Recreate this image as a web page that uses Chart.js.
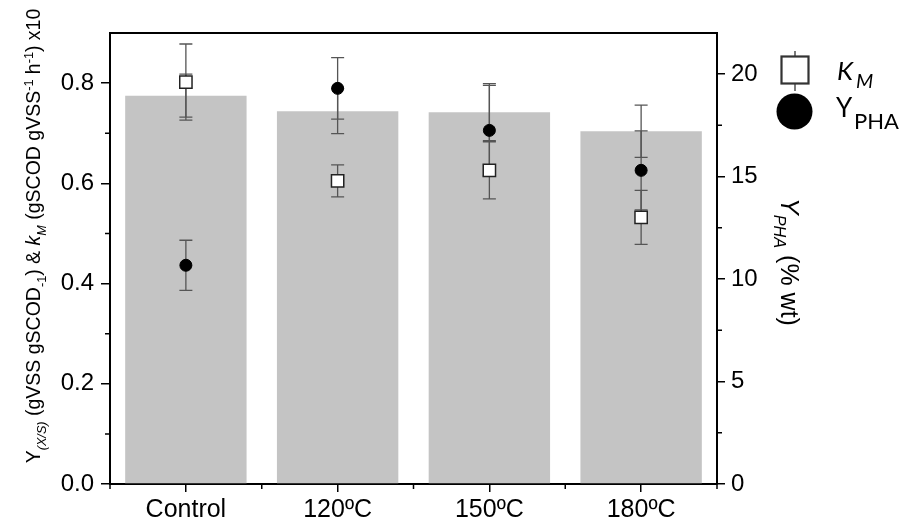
<!DOCTYPE html>
<html>
<head>
<meta charset="utf-8">
<script src="https://cdn.jsdelivr.net/npm/chart.js@4.4.1/dist/chart.umd.min.js"></script>
<style>
  body { margin: 0; background: #fff; }
  canvas { display: block; }
</style>
</head>
<body>
<canvas id="chart" width="904" height="527"></canvas>
<script>
// values
const categories = ['Control', '120ºC', '150ºC', '180ºC'];
const yxsValues = [0.775, 0.744, 0.742, 0.704];   // bars, left axis
const yxsErr = [0.043, 0.045, 0.057, 0.052];
const kmValues = [0.802, 0.605, 0.626, 0.532];     // squares, left axis
const kmErr = [0.076, 0.032, 0.057, 0.054];
const yphaValues = [10.67, 19.3, 17.25, 15.3];     // circles, right axis
const yphaErr = [1.22, 1.5, 2.2, 1.93];
const leftMinor = [0.1, 0.3, 0.5, 0.7];
const rightMinor = [2.5, 7.5, 12.5, 17.5];

const yTickFont = { family: 'Liberation Sans, Arial, sans-serif', size: 24 };
const xTickFont = { family: 'Liberation Sans, Arial, sans-serif', size: 25 };

// draws text made of pieces: [text, 'n'|'sub'|'sup', italic]
function drawRich(ctx, parts, x, y, angle, size, family) {
  ctx.save();
  ctx.translate(x, y);
  ctx.rotate(angle);
  ctx.textBaseline = 'alphabetic';
  ctx.textAlign = 'left';
  let total = 0;
  const widths = parts.map(p => {
    const s = p[1] === 'n' ? size : size * 0.65;
    ctx.font = (p[2] ? 'italic ' : '') + s + 'px ' + family;
    const w = ctx.measureText(p[0]).width;
    total += w;
    return w;
  });
  let cx = -total / 2;
  parts.forEach((p, i) => {
    const s = p[1] === 'n' ? size : size * 0.65;
    ctx.font = (p[2] ? 'italic ' : '') + s + 'px ' + family;
    let dy = size * 0.36;
    if (p[1] === 'sub') dy += size * 0.3;
    if (p[1] === 'sup') dy -= size * 0.38;
    ctx.fillStyle = '#000';
    ctx.fillText(p[0], cx, dy);
    cx += widths[i];
  });
  ctx.restore();
}

function errorBar(ctx, x, y1, y2, half) {
  ctx.beginPath();
  ctx.moveTo(x, y1); ctx.lineTo(x, y2);
  ctx.moveTo(x - half, y1); ctx.lineTo(x + half, y1);
  ctx.moveTo(x - half, y2); ctx.lineTo(x + half, y2);
  ctx.stroke();
}

const extras = {
  id: 'extras',
  afterDatasetDraw(chart, args) {
    if (args.index !== 0) return;
    const ctx = chart.ctx;
    const yL = chart.scales.y, yR = chart.scales.y1;
    const bars = chart.getDatasetMeta(0).data;
    ctx.save();
    ctx.strokeStyle = '#555';
    ctx.lineWidth = 1.3;
    bars.forEach((b, i) => {
      errorBar(ctx, b.x, yL.getPixelForValue(yxsValues[i] + yxsErr[i]), yL.getPixelForValue(yxsValues[i] - yxsErr[i]), 6.5);
      errorBar(ctx, b.x, yR.getPixelForValue(yphaValues[i] + yphaErr[i]), yR.getPixelForValue(yphaValues[i] - yphaErr[i]), 6.5);
      errorBar(ctx, b.x, yL.getPixelForValue(kmValues[i] + kmErr[i]), yL.getPixelForValue(kmValues[i] - kmErr[i]), 6.5);
    });
    ctx.restore();
  },
  afterDraw(chart) {
    const ctx = chart.ctx;
    const a = chart.chartArea;
    const yL = chart.scales.y, yR = chart.scales.y1, x = chart.scales.x;
    ctx.save();
    ctx.strokeStyle = '#000';
    // top frame line
    ctx.lineWidth = 2;
    ctx.beginPath();
    ctx.moveTo(a.left - 1, a.top); ctx.lineTo(a.right + 1, a.top);
    ctx.stroke();
    // minor ticks
    ctx.lineWidth = 1.5;
    ctx.beginPath();
    leftMinor.forEach(v => {
      const p = yL.getPixelForValue(v);
      ctx.moveTo(a.left - 5, p); ctx.lineTo(a.left, p);
    });
    rightMinor.forEach(v => {
      const p = yR.getPixelForValue(v);
      ctx.moveTo(a.right, p); ctx.lineTo(a.right + 5, p);
    });
    const half = (x.getPixelForValue(1) - x.getPixelForValue(0)) / 2;
    for (let i = 0; i <= categories.length; i++) {
      const p = x.getPixelForValue(i) - half;
      ctx.moveTo(p, a.bottom); ctx.lineTo(p, a.bottom + 5);
    }
    ctx.stroke();
    ctx.restore();

    // axis titles
    const fam = 'Liberation Sans, Arial, sans-serif';
    drawRich(ctx, [
      ['Y', 'n', false], ['(X/S)', 'sub', true], [' (gVSS gSCOD', 'n', false], ['-1', 'sub', false],
      [') & ', 'n', false], ['k', 'n', true], ['M', 'sub', true], [' (gSCOD gVSS', 'n', false],
      ['-1', 'sup', false], [' h', 'n', false], ['-1', 'sup', false], [') x10', 'n', false]
    ], 33, 236, -Math.PI / 2, 19.5, fam);
    drawRich(ctx, [['Y', 'n', true], ['PHA', 'sub', true], [' (% wt)', 'n', false]],
      790, 262, Math.PI / 2, 25, fam);

    // legend
    ctx.save();
    ctx.strokeStyle = '#333';
    ctx.lineWidth = 1.3;
    ctx.beginPath();
    ctx.moveTo(795, 51); ctx.lineTo(795, 91);
    ctx.stroke();
    ctx.fillStyle = '#fff';
    ctx.lineWidth = 2.2;
    ctx.fillRect(781.5, 56.5, 27, 27);
    ctx.strokeRect(781.5, 56.5, 27, 27);
    ctx.fillStyle = '#000';
    ctx.beginPath();
    ctx.arc(794.5, 111.5, 18, 0, Math.PI * 2);
    ctx.fill();
    const lf = 'Lato, "Open Sans", sans-serif';
    ctx.textBaseline = 'alphabetic';
    ctx.font = 'italic 26px ' + lf;
    ctx.fillText('K', 837, 80);
    ctx.font = 'italic 20px ' + lf;
    ctx.fillText('M', 856, 88);
    ctx.font = '26px ' + lf;
    ctx.fillText('Y', 836, 117);
    ctx.font = '22px ' + lf;
    ctx.fillText('PHA', 854, 129);
    ctx.restore();
  }
};

new Chart(document.getElementById('chart'), {
  type: 'bar',
  data: {
    labels: categories,
    datasets: [
      {
        label: 'Y(X/S)',
        data: yxsValues,
        backgroundColor: '#c4c4c4',
        barPercentage: 0.8,
        categoryPercentage: 1.0,
        yAxisID: 'y',
        order: 3
      },
      {
        type: 'line',
        label: 'YPHA',
        data: yphaValues,
        showLine: false,
        pointStyle: 'circle',
        pointRadius: 6,
        backgroundColor: '#000',
        borderColor: '#000',
        borderWidth: 1,
        yAxisID: 'y1',
        order: 2
      },
      {
        type: 'line',
        label: 'KM',
        data: kmValues,
        showLine: false,
        pointStyle: 'rect',
        pointRadius: 8.7,
        backgroundColor: '#fff',
        borderColor: '#222',
        borderWidth: 1.5,
        yAxisID: 'y',
        order: 1
      }
    ]
  },
  options: {
    responsive: false,
    animation: false,
    devicePixelRatio: 1,
    layout: { padding: { top: 33, left: 0, right: 0, bottom: 0 } },
    plugins: { legend: { display: false }, tooltip: { enabled: false } },
    scales: {
      x: {
        offset: true,
        grid: { display: true, drawOnChartArea: false, offset: false, tickLength: 8, color: '#000', lineWidth: 1.5 },
        border: { display: true, color: '#000', width: 2 },
        ticks: { color: '#000', font: xTickFont, padding: 3, maxRotation: 0 },
        afterFit(s) { s.height = 43; }
      },
      y: {
        position: 'left',
        min: 0,
        max: 0.9,
        grid: { display: true, drawOnChartArea: false, tickLength: 9, color: '#000', lineWidth: 1.5 },
        border: { display: true, color: '#000', width: 2 },
        ticks: { stepSize: 0.2, includeBounds: false, color: '#000', font: yTickFont, padding: 7,
          callback: v => v.toFixed(1) },
        afterFit(s) { s.width = 110; }
      },
      y1: {
        position: 'right',
        min: 0,
        max: 22,
        grid: { display: true, drawOnChartArea: false, tickLength: 8, color: '#000', lineWidth: 1.5 },
        border: { display: true, color: '#000', width: 2 },
        ticks: { stepSize: 5, includeBounds: false, color: '#000', font: yTickFont, padding: 6 },
        afterFit(s) { s.width = 187; }
      }
    }
  },
  plugins: [extras]
});
</script>
</body>
</html>
